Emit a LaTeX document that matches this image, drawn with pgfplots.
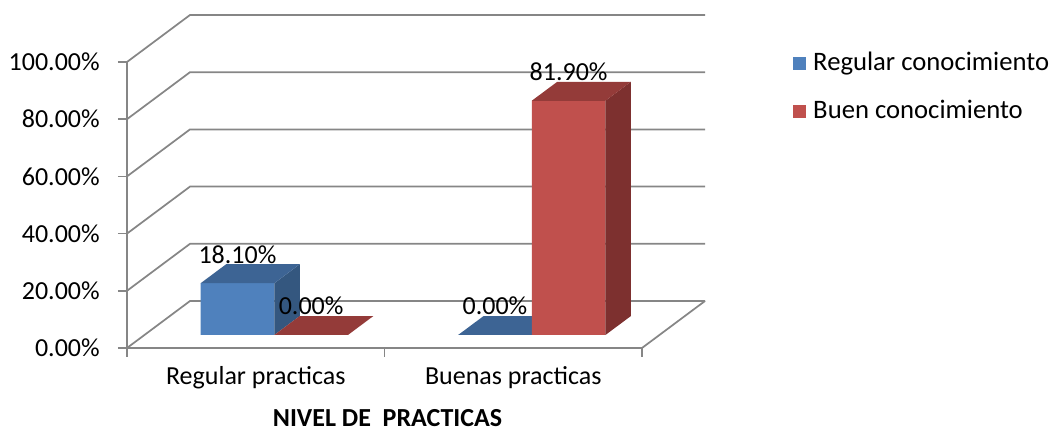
\documentclass[border=0pt]{standalone}
\usepackage{fontspec}
\setmainfont{Carlito}
\usepackage{pgfplots}
\usepackage{pgfplotstable}
\pgfplotsset{compat=1.18}

\definecolor{bfront}{HTML}{4F81BD}
\definecolor{btop}{HTML}{3D6494}
\definecolor{bside}{HTML}{34577F}
\definecolor{rfront}{HTML}{C0504D}
\definecolor{rtop}{HTML}{943B39}
\definecolor{rside}{HTML}{7D302F}
\definecolor{gridc}{HTML}{868686}

% x: 0 = Regular practicas, 1 = Buenas practicas; v in percent
\pgfplotstableread{
x v
0 18.1
1 0
}\regular
\pgfplotstableread{
x v
0 0
1 81.9
}\buen

\begin{document}
\fontsize{19.5}{23}\selectfont
\begin{tikzpicture}
\useasboundingbox (0pt,0pt) rectangle (789.75pt,325.5pt);
\begin{axis}[
  at={(95.25pt,64.5pt)}, anchor=south west,
  scale only axis, width=433.5pt, height=249.75pt,
  xmin=-0.5, xmax=1.7447, ymin=0, ymax=116.43,
  clip=false,
  axis line style={draw=none},
  xtick={-0.5,0.5,1.5}, xticklabels={},
  ytick={0,20,40,60,80,100},
  yticklabels={0.00\%,20.00\%,40.00\%,60.00\%,80.00\%,100.00\%},
  xtick pos=left, ytick pos=left,
  tick align=outside,
  major tick length=6.75pt,
  tick style={gridc, line width=1.3pt},
  yticklabel style={anchor=east, inner sep=0pt, xshift=-13.5pt},
  extra x ticks={0,1},
  extra x tick labels={Regular practicas,Buenas practicas},
  extra x tick style={major tick length=0pt,
    xticklabel style={anchor=base, inner sep=0pt, yshift=-27.75pt}},
  /pgf/number format/assume math mode=true,
  legend image code/.code={\fill[#1, draw=none] (0pt,-4.875pt) rectangle (9.75pt,4.875pt);},
  legend cell align=left,
  legend style={at={(1.1522,0.8868)}, anchor=north west, draw=none, fill=none,
    inner sep=0pt, row sep=20.4pt, column sep=5.25pt,
    font=\fontsize{20}{24}\selectfont,
    nodes={inner sep=0pt, text height=13pt, text depth=2.6pt}},
]
\addlegendimage{fill=bfront, draw=none}\addlegendentry{Regular conocimiento}
\addlegendimage{fill=rfront, draw=none}\addlegendentry{Buen conocimiento}

% walls and floor
\begin{scope}[gridc, line width=1.3pt]
\draw (axis cs:-0.5,0) -- (axis cs:-0.2553,16.43) -- (axis cs:1.7447,16.43);
\draw (axis cs:-0.5,20) -- (axis cs:-0.2553,36.43) -- (axis cs:1.7447,36.43);
\draw (axis cs:-0.5,40) -- (axis cs:-0.2553,56.43) -- (axis cs:1.7447,56.43);
\draw (axis cs:-0.5,60) -- (axis cs:-0.2553,76.43) -- (axis cs:1.7447,76.43);
\draw (axis cs:-0.5,80) -- (axis cs:-0.2553,96.43) -- (axis cs:1.7447,96.43);
\draw (axis cs:-0.5,100) -- (axis cs:-0.2553,116.43) -- (axis cs:1.7447,116.43);
\draw (axis cs:-0.5,100) -- (axis cs:-0.5,0) -- (axis cs:1.5,0) -- (axis cs:1.7447,16.43);
\end{scope}

% Regular conocimiento (blue)
\addplot[ybar, bar width=0.286, bar shift=-0.071, fill=bfront, draw=none, yshift=9.75pt, forget plot]
  table[x=x, y=v] {\regular};
\addplot[fill=bside, draw=none, yshift=9.75pt, forget plot]
  coordinates {(0.072,0) (0.072,18.1) (0.171,24.74) (0.171,6.64)} -- cycle;
\addplot[fill=btop, draw=none, yshift=9.75pt, forget plot]
  coordinates {(-0.214,18.1) (0.072,18.1) (0.171,24.74) (-0.115,24.74)} -- cycle;
\addplot[fill=btop, draw=none, yshift=9.75pt, forget plot]
  coordinates {(0.786,0) (1.072,0) (1.171,6.64) (0.885,6.64)} -- cycle;

% Buen conocimiento (red)
\addplot[ybar, bar width=0.286, bar shift=0.215, fill=rfront, draw=none, yshift=9.75pt, forget plot]
  table[x=x, y=v] {\buen};
\addplot[fill=rtop, draw=none, yshift=9.75pt, forget plot]
  coordinates {(0.072,0) (0.358,0) (0.457,6.64) (0.171,6.64)} -- cycle;
\addplot[fill=rside, draw=none, yshift=9.75pt, forget plot]
  coordinates {(1.358,0) (1.358,81.9) (1.457,88.54) (1.457,6.64)} -- cycle;
\addplot[fill=rtop, draw=none, yshift=9.75pt, forget plot]
  coordinates {(1.072,81.9) (1.358,81.9) (1.457,88.54) (1.171,88.54)} -- cycle;

% data labels
\addplot[draw=none, mark=none, forget plot,
  nodes near coords={\pgfmathprintnumber[fixed,fixed zerofill,precision=2]{\pgfplotspointmeta}\%},
  every node near coord/.append style={anchor=base, inner sep=0pt, yshift=24.75pt, text=black}]
  table[x expr=\thisrow{x}-0.071, y=v] {\regular};
\addplot[draw=none, mark=none, forget plot,
  nodes near coords={\pgfmathprintnumber[fixed,fixed zerofill,precision=2]{\pgfplotspointmeta}\%},
  every node near coord/.append style={anchor=base, inner sep=0pt, yshift=24.75pt, text=black}]
  table[x expr=\thisrow{x}+0.215, y=v] {\buen};

\node[anchor=base, inner sep=0pt] at (axis cs:0.5117,0) [yshift=-59.25pt] {\textbf{NIVEL DE\ \ PRACTICAS}};
\end{axis}
\end{tikzpicture}
\end{document}
